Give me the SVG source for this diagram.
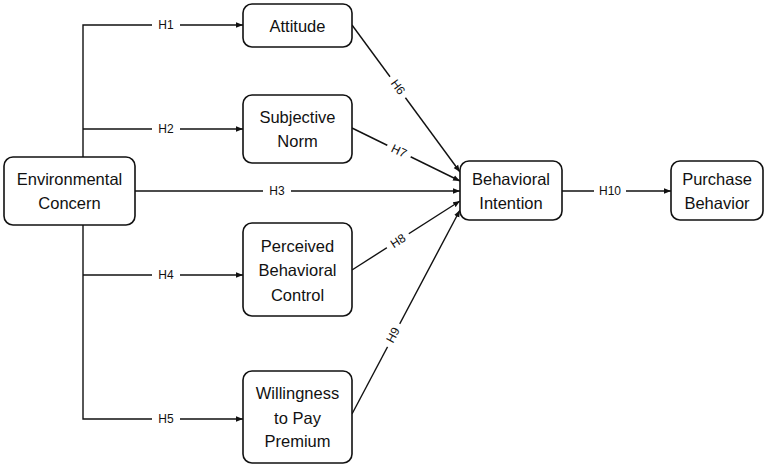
<svg xmlns="http://www.w3.org/2000/svg" width="767" height="467" viewBox="0 0 767 467">
<style>
.box{fill:#fff;stroke:#111;stroke-width:1.6}
.t{font-family:"Liberation Sans",Arial,sans-serif;font-size:16.5px;fill:#111;text-anchor:middle;dominant-baseline:central}
.l{font-family:"Liberation Sans",Arial,sans-serif;font-size:12px;fill:#111;text-anchor:middle;dominant-baseline:central}
.c{fill:none;stroke:#111;stroke-width:1.4}
.bg{fill:#fff}
</style>
<defs>
<marker id="a" viewBox="0 0 10 10" refX="10" refY="5" markerWidth="7" markerHeight="7" markerUnits="userSpaceOnUse" orient="auto">
<path d="M0,1 L10,5 L0,9 z" fill="#111"/>
</marker>
</defs>
<rect width="767" height="467" fill="#fff"/>
<g id="connectors">
<path class="c" d="M83,157 V25 H243" marker-end="url(#a)"/>
<path class="c" d="M83,129 H243" marker-end="url(#a)"/>
<path class="c" d="M83,225 V419 H243" marker-end="url(#a)"/>
<path class="c" d="M83,275 H243" marker-end="url(#a)"/>
<path class="c" d="M135,191 H460" marker-end="url(#a)"/>
<path class="c" d="M352,25 L460,172" marker-end="url(#a)"/>
<path class="c" d="M352,128 L460,181" marker-end="url(#a)"/>
<path class="c" d="M352,270 L460,201" marker-end="url(#a)"/>
<path class="c" d="M352,414 L460,210" marker-end="url(#a)"/>
<rect class="bg" x="152" y="17" width="28" height="16"/><text class="l" x="166" y="25">H1</text>
<rect class="bg" x="152" y="121" width="28" height="16"/><text class="l" x="166" y="129">H2</text>
<rect class="bg" x="263" y="183" width="28" height="16"/><text class="l" x="277" y="191">H3</text>
<rect class="bg" x="152" y="267" width="28" height="16"/><text class="l" x="166" y="275">H4</text>
<rect class="bg" x="152" y="411" width="28" height="16"/><text class="l" x="166" y="419">H5</text>
<g transform="translate(398,87) rotate(53.7)"><rect class="bg" x="-13" y="-8" width="26" height="16"/><text class="l" x="0" y="0">H6</text></g>
<g transform="translate(399,151) rotate(26.1)"><rect class="bg" x="-13" y="-8" width="26" height="16"/><text class="l" x="0" y="0">H7</text></g>
<g transform="translate(398,241) rotate(-32.6)"><rect class="bg" x="-13" y="-8" width="26" height="16"/><text class="l" x="0" y="0">H8</text></g>
<g transform="translate(393,335) rotate(-62)"><rect class="bg" x="-13" y="-8" width="26" height="16"/><text class="l" x="0" y="0">H9</text></g>
<path class="c" d="M562,191 H671" marker-end="url(#a)"/>
<rect class="bg" x="594" y="183" width="32" height="16"/><text class="l" x="610" y="191">H10</text>
</g>
<g id="env"><rect class="box" x="4" y="157" width="131" height="68" rx="9"/><text class="t" x="69.5" y="179">Environmental</text><text class="t" x="69.5" y="203">Concern</text></g>
<g id="attitude"><rect class="box" x="243" y="4" width="109" height="43" rx="9"/><text class="t" x="297.5" y="25.5">Attitude</text></g>
<g id="sn"><rect class="box" x="243" y="95" width="109" height="68" rx="9"/><text class="t" x="297.5" y="117">Subjective</text><text class="t" x="297.5" y="141">Norm</text></g>
<g id="pbc"><rect class="box" x="243" y="223" width="109" height="93" rx="9"/><text class="t" x="297.5" y="246">Perceived</text><text class="t" x="297.5" y="270">Behavioral</text><text class="t" x="297.5" y="295">Control</text></g>
<g id="wtp"><rect class="box" x="243" y="371" width="109" height="92" rx="9"/><text class="t" x="297.5" y="393">Willingness</text><text class="t" x="297.5" y="418">to Pay</text><text class="t" x="297.5" y="441">Premium</text></g>
<g id="bi"><rect class="box" x="460" y="161" width="102" height="59" rx="9"/><text class="t" x="511" y="179">Behavioral</text><text class="t" x="511" y="203">Intention</text></g>
<g id="pb"><rect class="box" x="671" y="161" width="92" height="59" rx="9"/><text class="t" x="717" y="179">Purchase</text><text class="t" x="717" y="203">Behavior</text></g>
</svg>
